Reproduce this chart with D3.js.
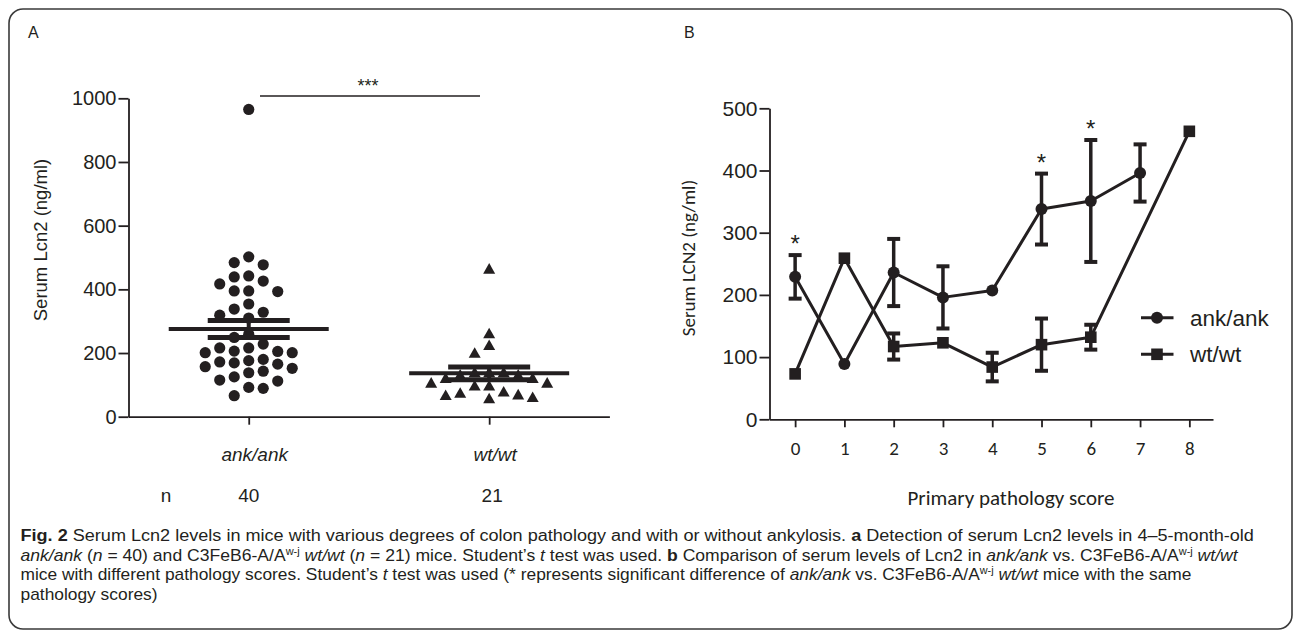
<!DOCTYPE html>
<html>
<head>
<meta charset="utf-8">
<script src="https://cdn.jsdelivr.net/npm/d3@7"></script>
<style>
    body { margin: 0; background: #fff; }
    svg { display: block; }
    text { fill: #231f20; }
</style>
</head>
<body>
<svg id="canvas"></svg>
<script>
// ---- panel A : serum Lcn2 per mouse ----
const groups = ["ank/ank", "wt/wt"];
const groupN = ["40", "21"];
const ankValues = [965, 502, 484, 477, 442, 439, 426, 417, 395, 395, 393, 354, 338, 328, 319, 310, 259, 249,
    228, 216, 216, 206, 205, 201, 201, 180, 176, 172, 169, 165, 157, 152, 143, 138, 125, 115, 112, 92, 89, 66];
const wtValues = [463, 260, 223, 199, 138, 130, 120, 105, 105, 120, 130, 138, 138, 96, 96, 73, 66, 56, 60, 68, 77];
const yTicksA = [0, 200, 400, 600, 800, 1000];

// ---- panel B : serum LCN2 by pathology score ----
const scores = [0, 1, 2, 3, 4, 5, 6, 7, 8];
const ankMean = [229, 89, 236, 196, 207, 338, 351, 396, null];
const ankSem = [35, 0, 54, 50, 0, 57, 98, 46, null];
const wtMean = [73, 259, 117, 123, 84, 120, 132, null, 463];
const wtSem = [0, 0, 21, 0, 23, 42, 20, null, 0];
const sigScores = [0, 5, 6];
const yTicksB = [0, 100, 200, 300, 400, 500];
const seriesNames = ["ank/ank", "wt/wt"];

// caption, one array per line: [text, style]  b = bold, i = italic, s = superscript
const captionLines = [
    [["Fig. 2", "b"], [" Serum Lcn2 levels in mice with various degrees of colon pathology and with or without ankylosis. ", ""], ["a", "b"], [" Detection of serum Lcn2 levels in 4–5-month-old", ""]],
    [["ank/ank", "i"], [" (", ""], ["n", "i"], [" = 40) and C3FeB6-A/A", ""], ["w-j", "s"], [" ", ""], ["wt/wt", "i"], [" (", ""], ["n", "i"], [" = 21) mice. Student’s ", ""], ["t", "i"], [" test was used. ", ""], ["b", "b"], [" Comparison of serum levels of Lcn2 in ", ""], ["ank/ank", "i"], [" vs. C3FeB6-A/A", ""], ["w-j", "s"], [" ", ""], ["wt/wt", "i"]],
    [["mice with different pathology scores. Student’s ", ""], ["t", "i"], [" test was used (* represents significant difference of ", ""], ["ank/ank", "i"], [" vs. C3FeB6-A/A", ""], ["w-j", "s"], [" ", ""], ["wt/wt", "i"], [" mice with the same", ""]],
    [["pathology scores)", ""]]
];

let width = 1295;
let height = 632;
const ink = "#231f20";
const arial = "'Liberation Sans', Arial, sans-serif";
const calibri = "Carlito, Lato, 'Open Sans', sans-serif";

let canvas = d3.select('#canvas');
canvas.attr('width', width);
canvas.attr('height', height);

// frame
canvas.append("rect")
    .attr("x", 9).attr("y", 9)
    .attr("width", 1283).attr("height", 620)
    .attr("rx", 14)
    .attr("fill", "none")
    .attr("stroke", "#3a3a3a")
    .attr("stroke-width", 1.6);

canvas.append("text").attr("x", 28).attr("y", 38)
    .style("font", `16px ${arial}`).text("A");
canvas.append("text").attr("x", 684).attr("y", 38)
    .style("font", `16px ${arial}`).text("B");

let styleAxis = (g, fontFamily, fontSize) => {
    g.selectAll("path, line").attr("stroke", ink).attr("stroke-width", 1.8);
    g.selectAll("text").attr("fill", ink)
        .style("font-family", fontFamily).style("font-size", fontSize + "px");
}

// ===================== panel A =====================
let yA = d3.scaleLinear().domain([0, 1000]).range([416.7, 98.3]);
let xA = d3.scalePoint().domain(groups).range([128.5, 609.4]).padding(0.5);

let gA = canvas.append("g");

gA.append("g")
    .attr("transform", "translate(128.5,0)")
    .call(d3.axisLeft(yA).tickValues(yTicksA).tickFormat(d3.format("d"))
        .tickSize(10).tickSizeOuter(0).tickPadding(2))
    .call(g => styleAxis(g, arial, 20));

gA.append("g")
    .attr("transform", "translate(0,416.7)")
    .call(d3.axisBottom(xA).tickSize(8).tickSizeOuter(0).tickFormat(""))
    .call(g => styleAxis(g, arial, 19));

gA.append("text")
    .attr("transform", "translate(47,240) rotate(-90)")
    .attr("text-anchor", "middle")
    .style("font", `18.5px ${arial}`)
    .text("Serum Lcn2 (ng/ml)");

// group labels and n
groups.forEach((grp, i) => {
    gA.append("text")
        .attr("x", xA(grp) + 6).attr("y", 461)
        .attr("text-anchor", "middle")
        .style("font", `italic 19px ${arial}`)
        .text(grp);
    gA.append("text")
        .attr("x", xA(grp) + (i ? 3 : 0)).attr("y", 502)
        .attr("text-anchor", "middle")
        .style("font", `19px ${arial}`)
        .text(groupN[i]);
});
gA.append("text").attr("x", 166).attr("y", 502)
    .attr("text-anchor", "middle")
    .style("font", `19px ${arial}`).text("n");

// column beeswarm like the GraphPad scatter
let swarm = (values, cx, step, gap) => {
    let cols = new Map();
    let order = values.map((v, i) => i).sort((a, b) => values[b] - values[a]);
    let pos = new Array(values.length);
    order.forEach(i => {
        let y = yA(values[i]);
        for (let k = 0; k < 30; k++) {
            let c = k === 0 ? 0 : (k % 2 ? -Math.ceil(k / 2) : k / 2);
            let ys = cols.get(c) || [];
            if (ys.every(yy => Math.abs(yy - y) >= gap)) {
                ys.push(y);
                cols.set(c, ys);
                pos[i] = { x: cx + c * step, y: y };
                break;
            }
        }
    });
    return pos;
}

let ankPos = swarm(ankValues, xA(groups[0]), 14.5, 11.5);
let wtPos = swarm(wtValues, xA(groups[1]), 14.5, 11.5);

gA.append("g").selectAll("circle")
    .data(ankPos)
    .enter()
    .append("circle")
    .attr("cx", d => d.x)
    .attr("cy", d => d.y)
    .attr("r", 5.6)
    .attr("fill", ink);

gA.append("g").selectAll("path")
    .data(wtPos)
    .enter()
    .append("path")
    .attr("d", "M0,-6.2L6,4.4L-6,4.4Z")
    .attr("transform", d => `translate(${d.x},${d.y})`)
    .attr("fill", ink);

// mean +/- SEM
[ankValues, wtValues].forEach((vals, i) => {
    let cx = xA(groups[i]);
    let m = d3.mean(vals);
    let sem = d3.deviation(vals) / Math.sqrt(vals.length);
    let g = gA.append("g").attr("stroke", ink);
    g.append("line").attr("x1", cx).attr("x2", cx)
        .attr("y1", yA(m + sem)).attr("y2", yA(m - sem)).attr("stroke-width", 4);
    g.append("line").attr("x1", cx - 80).attr("x2", cx + 80)
        .attr("y1", yA(m)).attr("y2", yA(m)).attr("stroke-width", 4);
    [m + sem, m - sem].forEach(v => {
        g.append("line").attr("x1", cx - 41).attr("x2", cx + 41)
            .attr("y1", yA(v)).attr("y2", yA(v)).attr("stroke-width", 5);
    });
});

// significance bar
gA.append("line")
    .attr("x1", 260).attr("x2", 480)
    .attr("y1", 96).attr("y2", 96)
    .attr("stroke", ink).attr("stroke-width", 1.5);
gA.append("text").attr("x", 368).attr("y", 92)
    .attr("text-anchor", "middle")
    .style("font", `18px ${arial}`).text("***");

// ===================== panel B =====================
let xB = d3.scaleLinear().domain([-0.52, 8.48]).range([769.5, 1213]);
let yB = d3.scaleLinear().domain([0, 500]).range([419.3, 108.3]);

let gB = canvas.append("g");

gB.append("g")
    .attr("transform", "translate(769.5,0)")
    .call(d3.axisLeft(yB).tickValues(yTicksB).tickSize(10).tickSizeOuter(0).tickPadding(2))
    .call(g => styleAxis(g, arial, 21));

gB.append("g")
    .attr("transform", "translate(0,419.3)")
    .call(d3.axisBottom(xB).tickValues(scores).tickSize(8).tickSizeOuter(0).tickPadding(14))
    .call(g => styleAxis(g, calibri, 19));

gB.append("text")
    .attr("transform", "translate(695,258) rotate(-90)")
    .attr("text-anchor", "middle")
    .style("font", `19px ${calibri}`)
    .text("Serum LCN2 (ng/ml)");

gB.append("text")
    .attr("x", 1011).attr("y", 505)
    .attr("text-anchor", "middle")
    .style("font", `21px ${calibri}`)
    .text("Primary pathology score");

let series = [
    { name: seriesNames[0], mean: ankMean, sem: ankSem, marker: "circle" },
    { name: seriesNames[1], mean: wtMean, sem: wtSem, marker: "square" }
];

let lineGen = d3.line()
    .x(d => xB(d.score))
    .y(d => yB(d.value));

let drawMarker = (g, type, x, y) => {
    if (type === "circle") {
        g.append("circle").attr("cx", x).attr("cy", y).attr("r", 6).attr("fill", ink);
    } else {
        g.append("rect").attr("x", x - 5.8).attr("y", y - 5.8)
            .attr("width", 11.6).attr("height", 11.6).attr("fill", ink);
    }
}

series.forEach(s => {
    let pts = scores.map((sc, i) => ({ score: sc, value: s.mean[i], sem: s.sem[i] }))
        .filter(p => p.value !== null);
    let g = gB.append("g");
    g.append("path")
        .datum(pts)
        .attr("d", lineGen)
        .attr("fill", "none")
        .attr("stroke", ink)
        .attr("stroke-width", 3)
        .attr("stroke-linejoin", "round");
    pts.filter(p => p.sem > 0).forEach(p => {
        let x = xB(p.score);
        g.append("line").attr("x1", x).attr("x2", x)
            .attr("y1", yB(p.value + p.sem)).attr("y2", yB(p.value - p.sem))
            .attr("stroke", ink).attr("stroke-width", 3.5);
        [p.value + p.sem, p.value - p.sem].forEach(v => {
            g.append("line").attr("x1", x - 6.5).attr("x2", x + 6.5)
                .attr("y1", yB(v)).attr("y2", yB(v))
                .attr("stroke", ink).attr("stroke-width", 4);
        });
    });
    pts.forEach(p => drawMarker(g, s.marker, xB(p.score), yB(p.value)));
});

// significance stars above ank/ank error bars
sigScores.forEach(sc => {
    let i = scores.indexOf(sc);
    gB.append("text")
        .attr("x", xB(sc)).attr("y", yB(ankMean[i] + ankSem[i]) - 3)
        .attr("text-anchor", "middle")
        .style("font", `24px ${arial}`)
        .text("*");
});

// legend
series.forEach((s, i) => {
    let ly = 317.7 + i * 36.6;
    let g = gB.append("g");
    g.append("line").attr("x1", 1141).attr("x2", 1173.5)
        .attr("y1", ly).attr("y2", ly)
        .attr("stroke", ink).attr("stroke-width", 3);
    drawMarker(g, s.marker, 1157, ly);
    g.append("text").attr("x", 1190).attr("y", ly + 8)
        .style("font", `22.5px ${arial}`)
        .text(s.name);
});

// ===================== caption =====================
const captionFont = "'Liberation Sans Narrow', 'Liberation Sans', Arial, sans-serif";
const captionWidths = [1234, 1218, 1172];
let captionScale = 1;
captionLines.forEach((line, li) => {
    let g = canvas.append("g");
    let t = g.append("text")
        .attr("x", 0).attr("y", 0)
        .style("font-family", captionFont)
        .style("font-size", "16px");
    let shifted = false;
    line.forEach(([txt, st]) => {
        let ts = t.append("tspan").text(txt);
        if (st === "b") ts.style("font-weight", "bold");
        if (st === "i") ts.style("font-style", "italic");
        if (st === "s") {
            ts.style("font-size", "10px").attr("dy", -6);
            shifted = true;
        } else if (shifted) {
            ts.attr("dy", 6);
            shifted = false;
        }
    });
    let w = t.node().getComputedTextLength();
    if (li < captionWidths.length) captionScale = captionWidths[li] / w;
    g.attr("transform", `translate(20.5,${541 + li * 19.5}) scale(${captionScale},1)`);
});
</script>
</body>
</html>
